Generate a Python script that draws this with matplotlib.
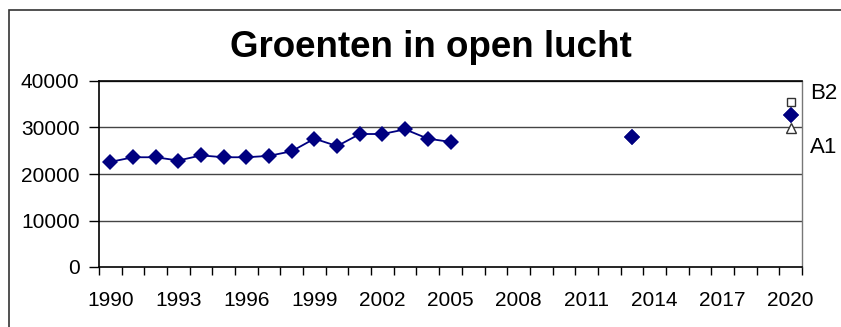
import numpy as np
import matplotlib.pyplot as plt
from matplotlib.patches import Rectangle

plt.rcParams['font.family'] = ['Liberation Sans', 'DejaVu Sans']

# jaren op de categorie-as
jaren = list(range(1990, 2021))

# gemeten areaal (ha), gaten waar geen waarneming is
gemeten = {
    1990: 22600, 1991: 23600, 1992: 23600, 1993: 22900, 1994: 24000,
    1995: 23600, 1996: 23600, 1997: 23900, 1998: 24900, 1999: 27600,
    2000: 26000, 2001: 28600, 2002: 28600, 2003: 29600, 2004: 27600,
    2005: 26900, 2013: 28000, 2020: 32600,
}
# scenario's voor 2020
scenario_jaar = 2020
b2 = 35500
a1 = 29900

y_ticks = [0, 10000, 20000, 30000, 40000]
x_labels = jaren[::3]

waarden = np.array([gemeten.get(j, np.nan) for j in jaren], dtype=float)
x = np.arange(len(jaren))

fig = plt.figure(figsize=(8.41, 3.27), dpi=100)
ax = fig.add_axes([99 / 841, 1 - 267 / 327, 703 / 841, 186 / 327])

# rand om de hele grafiek (loopt rechts en onder buiten beeld)
top = 1 - 10 / 327
fig.add_artist(Rectangle((9 / 841, -0.2), 1.2, top + 0.2,
                         transform=fig.transFigure, fill=False,
                         edgecolor='#333333', lw=1.2))

for g in y_ticks[1:]:
    ax.axhline(g, color='#444444', lw=1.0, zorder=1)

ax.plot(x, waarden, color='#000080', lw=1.3, marker='D', ms=8,
        markeredgewidth=0, zorder=3)
# losse punten (geen lijn ernaartoe)
los = [jaren.index(2013), jaren.index(2020)]
ax.plot(x[los], waarden[los], ls='none', color='#000080', marker='D', ms=8,
        markeredgewidth=0, zorder=3)

xs = jaren.index(scenario_jaar)
ax.plot(xs, b2, ls='none', marker='s', ms=5.5, mfc='white', mec='#333333',
        mew=1.0, zorder=4)
ax.plot(xs, a1, ls='none', marker='^', ms=7, mfc='white', mec='#333333',
        mew=1.0, zorder=2)

ax.set_xlim(-0.5, len(jaren) - 0.5)
ax.set_ylim(0, 40000)
ax.set_yticks(y_ticks)
ax.set_yticklabels([str(t) for t in y_ticks])
ax.tick_params(axis='y', length=7, width=1, pad=7, labelsize=15)

# tickmarks op de categoriegrenzen, labels in het midden
ax.set_xticks(np.arange(-0.5, len(jaren)), minor=False)
ax.set_xticklabels([])
ax.tick_params(axis='x', which='major', length=6, width=1)
ax.set_xticks([jaren.index(j) for j in x_labels], minor=True)
ax.set_xticklabels([str(j) for j in x_labels], minor=True)
ax.tick_params(axis='x', which='minor', length=0, pad=17, labelsize=15)

for side in ['left', 'bottom', 'top']:
    ax.spines[side].set_color('black')
    ax.spines[side].set_linewidth(1.2)
ax.spines['right'].set_color('#777777')
ax.spines['right'].set_linewidth(1.0)

ax.text(1.012, 36100, 'B2', transform=ax.get_yaxis_transform(),
        fontsize=16, va='baseline', ha='left')
ax.text(1.012, 24500, 'A1', transform=ax.get_yaxis_transform(),
        fontsize=16, va='baseline', ha='left')

fig.text(431 / 841, 1 - 57 / 327, 'Groenten in open lucht', fontsize=26.5,
         fontweight='bold', ha='center', va='baseline')

fig.savefig('out.png', dpi=100)
